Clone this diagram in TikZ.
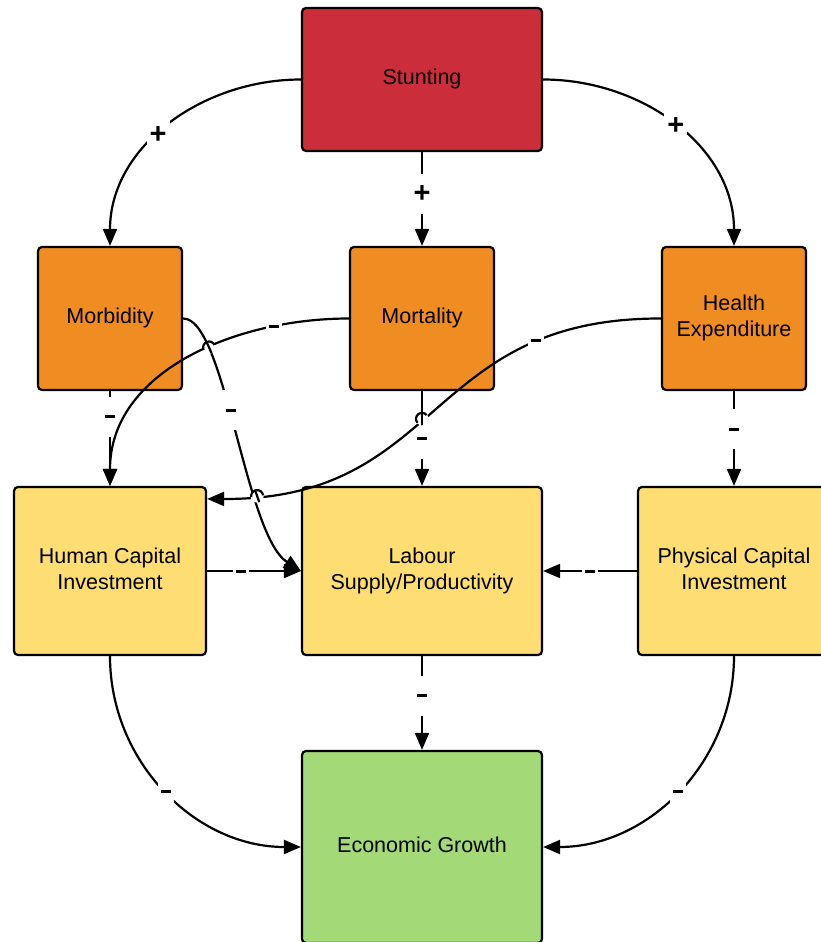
\documentclass[tikz,border=0pt]{standalone}
\usepackage{fontspec}
\setmainfont{Liberation Sans}
\usetikzlibrary{arrows.meta,calc,intersections}
\definecolor{cred}{HTML}{CB2D3A}
\definecolor{corange}{HTML}{EF8D22}
\definecolor{cyellow}{HTML}{FEDD72}
\definecolor{cgreen}{HTML}{A3D977}
\newcommand{\mns}{\rule{10pt}{3pt}}
\newcommand{\pls}{{\bfseries\fontsize{29}{30}\selectfont +}}
\newcommand{\bt}[1]{\raisebox{2.5pt}{\begin{tabular}{@{}c@{}}#1\end{tabular}}}
\begin{document}
\begin{tikzpicture}[x=1pt,y=-1pt,
  box/.style={draw=black,line width=2.2pt,rounded corners=4pt,align=center,inner sep=0pt,
    font=\fontsize{21.5}{26}\selectfont},
  bigbox/.style={box,minimum width=240pt,minimum height=143pt},
  smallbox/.style={box,minimum width=144pt,minimum height=143pt},
  midbox/.style={box,minimum width=192pt,minimum height=168pt},
  ln/.style={line width=2.2pt},
  conn/.style={ln,-{Triangle[length=17pt,width=14pt]}},
  sgn/.style={fill=white,inner xsep=3pt,inner ysep=0pt,minimum height=40pt},
  msgn/.style={sgn}
]
\useasboundingbox (0,0) rectangle (821,942);
\node[bigbox,fill=cred] (stunt) at (422,79.5) {\bt{Stunting}};
\node[smallbox,fill=corange] (morb) at (110,318.5) {\bt{Morbidity}};
\node[smallbox,fill=corange] (mort) at (422,318.5) {\bt{Mortality}};
\node[smallbox,fill=corange] (health) at (734,318.5) {\bt{Health\\Expenditure}};
\node[midbox,fill=cyellow] (hci) at (110,571) {\bt{Human Capital\\Investment}};
\node[box,fill=cyellow,minimum width=240pt,minimum height=168pt] (lab) at (422,571) {\bt{Labour\\Supply/Productivity}};
\node[midbox,fill=cyellow] (pci) at (734,571) {\bt{Physical Capital\\Investment}};
\node[box,fill=cgreen,minimum width=240pt,minimum height=192pt] (econ) at (422,847) {\bt{Economic Growth}};
\coordinate (hcitarget) at ($(hci.north east)+(0,13)$);

% top level
\draw[conn] (stunt.west) to[out=180,in=90] node[sgn,pos=0.55] {\pls} (morb.north);
\draw[conn] (stunt.east) to[out=0,in=90] node[sgn,pos=0.5] {\pls} (health.north);
\draw[conn] (stunt.south) -- node[sgn,pos=0.45] {\pls} (mort.north);

% second level verticals
\draw[conn] (morb.south) -- node[msgn,pos=0.27] {\mns} (hci.north);
\draw[conn,name path=mortv] (mort.south) -- node[msgn,pos=0.5] {\mns} (lab.north);
\draw[conn] (health.south) -- node[msgn,pos=0.4] {\mns} (pci.north);

% cross links
\draw[conn,name path=morbc] (morb.east) .. controls (225,318) and (245,535) .. node[msgn,pos=0.44] {\mns} (lab.west);
\draw[conn,name path=mortc] (mort.west) to[out=180,in=90] node[msgn,pos=0.22] {\mns} (hci.north);
\draw[conn,name path=healthc] (health.west) .. controls (424,318) and (444,500) .. node[msgn,pos=0.22] {\mns} (hcitarget);

% horizontal to labour
\draw[conn] (hci.east) -- node[msgn,pos=0.36] {\mns} (lab.west);
\draw[conn] (pci.west) -- node[msgn,pos=0.5] {\mns} (lab.east);

% to growth
\draw[conn] (lab.south) -- node[msgn,pos=0.42] {\mns} (econ.north);
\draw[conn] (hci.south) to[out=-90,in=180] node[msgn,pos=0.5] {\mns} (econ.west);
\draw[conn] (pci.south) to[out=-90,in=0] node[msgn,pos=0.5] {\mns} (econ.east);

% line hops
\path[name intersections={of=morbc and mortc,by=xa}];
\path[name intersections={of=morbc and healthc,by=xb}];
\path[name intersections={of=mortv and healthc,by=xc}];
% hop a: mortality curve over morbidity curve
\fill[white] (xa) circle (6.5);
\begin{scope}\clip (xa) circle (6.5);
\draw[ln] (morb.east) .. controls (225,318) and (245,535) .. (lab.west);
\end{scope}
\draw[ln] ($(xa)+(334.9:6)$) arc[start angle=334.9,end angle=154.9,radius=6];
% hop b: health curve over morbidity curve
\fill[white] (xb) circle (6.5);
\begin{scope}\clip (xb) circle (6.5);
\draw[ln] (morb.east) .. controls (225,318) and (245,535) .. (lab.west);
\end{scope}
\draw[ln] ($(xb)+(353:6)$) arc[start angle=353,end angle=173,radius=6];
% hop c: health curve over mortality vertical
\fill[white] (xc) circle (6.5);
\begin{scope}\clip (xc) circle (6.5);
\draw[ln] (mort.south) -- (lab.north);
\end{scope}
\draw[ln] ($(xc)+(320.1:6)$) arc[start angle=320.1,end angle=140.1,radius=6];
\end{tikzpicture}
\end{document}
